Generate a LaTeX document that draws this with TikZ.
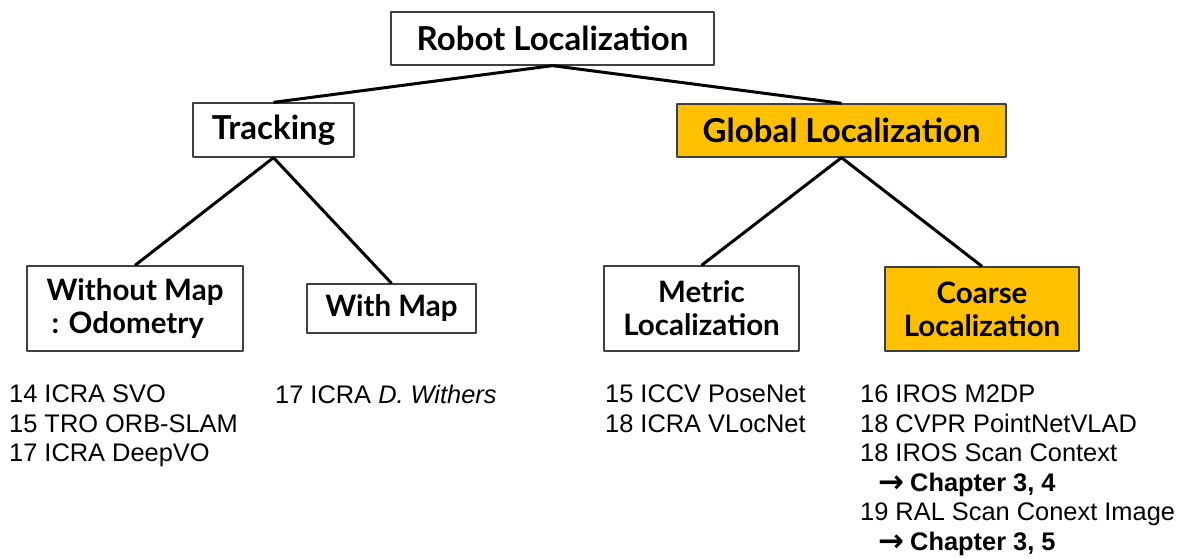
\documentclass[tikz,border=0pt]{standalone}
\usepackage{fontspec}
\setmainfont{Liberation Sans}
\newfontfamily\boxfont{Lato}
\newfontfamily\arrowfont{DejaVu Sans}
\usetikzlibrary{positioning}

\definecolor{gold}{HTML}{FFC000}
\definecolor{boxgray}{HTML}{404040}

\newcommand{\chapto}[1]{\hspace*{18pt}\raisebox{-1.5pt}{\arrowfont\bfseries\fontsize{31}{29.5}\selectfont →}\hspace{6pt}\textbf{#1}}

\tikzset{
  topic/.style={draw=boxgray, line width=1.3pt, fill=white, inner sep=0pt, align=center,
    font=\boxfont\bfseries\fontsize{33}{38}\selectfont},
  subtopic/.style={topic, font=\boxfont\bfseries\fontsize{29.5}{33}\selectfont},
  chosen/.style={fill=gold},
  paperlist/.style={anchor=north west, inner sep=0pt, align=left,
    font=\fontsize{25.4}{29.5}\selectfont},
}

\begin{document}
\begin{tikzpicture}[x=1pt, y=-1pt, line join=bevel]
	     \useasboundingbox (0,0) rectangle (1191,559);
	     %
             \node[topic, minimum width=323pt, minimum height=53pt] (robot) at (552.5,38.5) {Robot Localization};
             \node[topic, minimum width=161pt, minimum height=54pt] (track) at (273.5,130) {Tracking};
             \node[topic, chosen, minimum width=329pt, minimum height=53pt] (global) at (841.5,130.5) {Global Localization};
             \node[subtopic, align=left, minimum width=216pt, minimum height=85pt] (nomap) at (135,308.5) {Without Map\\\hspace*{5pt}: Odometry};
             \node[subtopic, minimum width=169pt, minimum height=49pt] (withmap) at (391.5,308.5) {With Map};
             \node[subtopic, minimum width=195pt, minimum height=85pt] (metric) at (701.5,308.5) {Metric\\Localization};
             \node[subtopic, chosen, minimum width=194pt, minimum height=84pt] (coarse) at (982,309) {Coarse\\Localization};
             %
             \path[line width=3pt] (robot.south) edge[] (track.north);
             \path[line width=3pt] (robot.south) edge[] (global.north);
             \path[line width=3pt] (track.south) edge[] (nomap.north);
             \path[line width=3pt] (track.south) edge[] (withmap.north);
             \path[line width=3pt] (global.south) edge[] (metric.north);
             \path[line width=3pt] (global.south) edge[] (coarse.north);
             %
             \node[paperlist] (odolist) at (9,385) {14 ICRA SVO\\15 TRO ORB-SLAM\\17 ICRA DeepVO};
             \node[paperlist] (maplist) at (275,385) {17 ICRA \textit{D. Withers}};
             \node[paperlist] (metriclist) at (605,385) {15 ICCV PoseNet\\18 ICRA VLocNet};
             \node[paperlist] (coarselist) at (860,385) {16 IROS M2DP\\18 CVPR PointNetVLAD\\18 IROS Scan Context\\\chapto{Chapter 3, 4}\\19 RAL Scan Conext Image\\\chapto{Chapter 3, 5}};
          \end{tikzpicture}
\end{document}
